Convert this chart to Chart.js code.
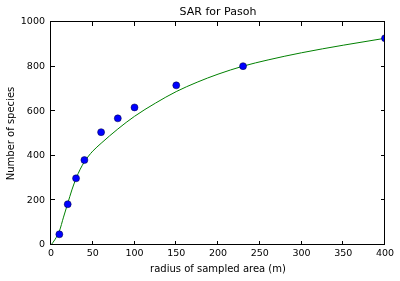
<!DOCTYPE html>
<html>
<head>
<meta charset="utf-8">
<script src="https://cdn.jsdelivr.net/npm/chart.js@4.4.0/dist/chart.umd.min.js"></script>
<style>
  html, body { margin: 0; padding: 0; background: #fff; }
</style>
</head>
<body>
<canvas id="chart" width="400" height="281"></canvas>
<script>
// observed species counts
var radius = [10, 20, 30, 40, 60, 80, 100, 150, 230, 400]
var species = [48, 183, 299, 381, 506, 568, 617, 716, 802, 927]

// fitted curve
var fitRadius = [0, 5, 10, 15, 20, 25, 30, 35, 40, 45, 50, 60, 80, 100, 125, 150, 175, 200, 230, 260, 300, 350, 400]
var fitSpecies = [0, 26, 62, 125, 186, 247, 298, 340, 373, 399, 421, 456, 520, 577, 636, 688, 730, 766, 802, 830, 862, 896, 927]

var xTicks = [0, 50, 100, 150, 200, 250, 300, 350, 400]
var yTicks = [0, 200, 400, 600, 800, 1000]

var chartTitle = 'SAR for Pasoh'
var font = "'DejaVu Sans', sans-serif"

function toPoints(xs, ys) {
    return xs.map(function(x, i) { return {x: x, y: ys[i]} })
}

// matplotlib style box with inward ticks on all four sides, title over the axes
var frame = {
    id: 'frame',
    afterDatasetsDraw: function(chart) {
        var ctx = chart.ctx
        var a = chart.chartArea
        var xs = chart.scales.x
        var ys = chart.scales.y
        ctx.save()
        ctx.strokeStyle = '#000'
        ctx.lineWidth = 1
        ctx.beginPath()
        xs.ticks.forEach(function(t) {
            var px = Math.round(xs.getPixelForValue(t.value)) - 0.5
            ctx.moveTo(px, a.bottom); ctx.lineTo(px, a.bottom - 4)
            ctx.moveTo(px, a.top); ctx.lineTo(px, a.top + 4)
        })
        ys.ticks.forEach(function(t) {
            var py = Math.round(ys.getPixelForValue(t.value)) - 0.5
            ctx.moveTo(a.left, py); ctx.lineTo(a.left + 4, py)
            ctx.moveTo(a.right, py); ctx.lineTo(a.right - 4, py)
        })
        ctx.stroke()
        ctx.strokeRect(Math.round(a.left) - 0.5, Math.round(a.top) - 0.5,
            Math.round(a.right - a.left), Math.round(a.bottom - a.top))

        ctx.fillStyle = '#000'
        ctx.font = '11px ' + font
        ctx.textAlign = 'center'
        ctx.textBaseline = 'middle'
        ctx.fillText(chartTitle, (a.left + a.right) / 2, 12)
        ctx.restore()
    }
}

var ctx = document.getElementById('chart').getContext('2d')
var chart = new Chart(ctx, {
    type: 'scatter',
    data: {
        datasets: [{
            label: 'observed',
            data: toPoints(radius, species),
            backgroundColor: '#0000ff',
            borderColor: '#000033',
            borderWidth: 0.5,
            pointRadius: 3.5,
            clip: 0,
            order: 0
        }, {
            label: 'fit',
            data: toPoints(fitRadius, fitSpecies),
            showLine: true,
            borderColor: '#008000',
            borderWidth: 1,
            pointRadius: 0,
            cubicInterpolationMode: 'monotone',
            clip: 0,
            order: 1
        }]
    },
    options: {
        responsive: false,
        animation: false,
        layout: { padding: { left: 0, right: 15, top: 22, bottom: 0 } },
        plugins: {
            legend: { display: false },
            tooltip: { enabled: false },
            title: { display: false }
        },
        scales: {
            x: {
                type: 'linear',
                min: 0,
                max: 400,
                afterBuildTicks: function(s) { s.ticks = xTicks.map(function(v) { return {value: v} }) },
                afterFit: function(s) { s.height = 36 },
                grid: { display: false, drawTicks: false },
                border: { display: false },
                ticks: {
                    color: '#000', padding: 3,
                    font: { family: font, size: 9.5 },
                    callback: function(v) { return String(v) }
                },
                title: {
                    display: true,
                    text: 'radius of sampled area (m)',
                    color: '#000',
                    font: { family: font, size: 10, lineHeight: 1.2 },
                    padding: { top: 0, bottom: 5.5 }
                }
            },
            y: {
                type: 'linear',
                min: 0,
                max: 1000,
                afterBuildTicks: function(s) { s.ticks = yTicks.map(function(v) { return {value: v} }) },
                afterFit: function(s) { s.width = 51 },
                grid: { display: false, drawTicks: false },
                border: { display: false },
                ticks: {
                    color: '#000', padding: 6,
                    font: { family: font, size: 9.5 },
                    callback: function(v) { return String(v) }
                },
                title: {
                    display: true,
                    text: 'Number of species',
                    color: '#000',
                    font: { family: font, size: 10, lineHeight: 1.2 },
                    padding: { top: 5, bottom: 0 }
                }
            }
        }
    },
    plugins: [frame]
})
</script>
</body>
</html>
